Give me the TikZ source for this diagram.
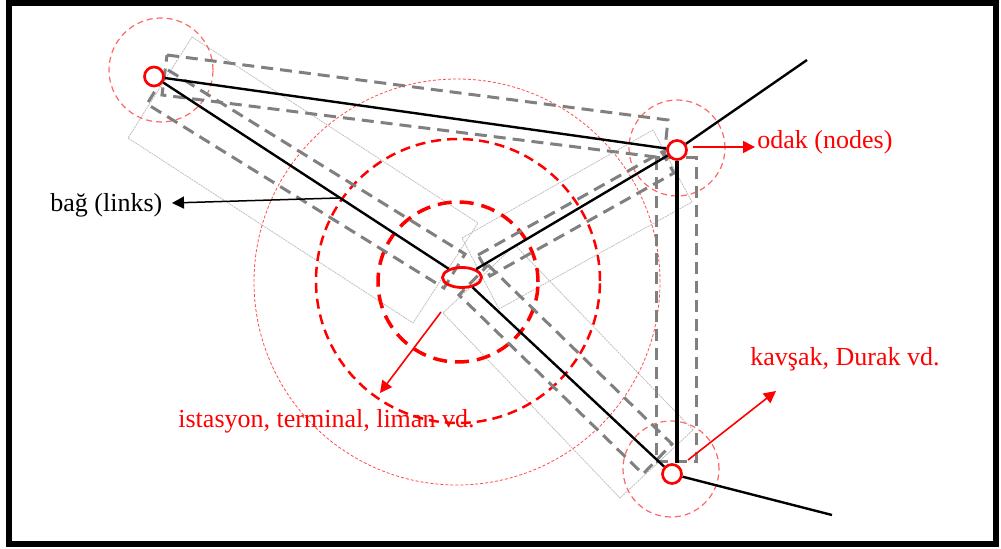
\documentclass[tikz,border=0pt]{standalone}
\usepackage{fontspec}
\setmainfont{Liberation Serif}
\usetikzlibrary{shapes.geometric,arrows.meta}
\begin{document}
\begin{tikzpicture}[x=0.5pt,y=-0.5pt,
  nodecirc/.style={circle,draw=red,line width=1.35pt,fill=white,inner sep=0pt,minimum size=9.5pt},
  link/.style={black,line width=1.2pt},
  buffer/.style={draw=gray,line width=1.5pt,dash pattern=on 6pt off 3.5pt},
  zone/.style={draw=black!25,line width=0.4pt,dash pattern=on 1pt off 0.4pt},
  reach/.style={draw=red!60,line width=0.6pt,dash pattern=on 3pt off 2pt},
  lbl/.style={font=\fontsize{13}{15}\selectfont,inner sep=0pt,anchor=base west},
  redarrow/.style={draw=red,line width=0.8pt,-{Triangle[length=6pt,width=6pt]}},
  blackarrow/.style={draw=black,line width=0.75pt,-{Triangle[length=6pt,width=6pt]}},
]
\useasboundingbox (0,0) rectangle (1001,549);
\draw[line width=3pt] (9,3) rectangle (996,544);

% thin zone rectangles
\draw[zone] (192,37) -- (478,223) -- (413,323) -- (128,138) -- cycle;
\draw[zone] (462,238) -- (653,130) -- (692,202) -- (499,309) -- cycle;
\draw[zone] (515,245) -- (693,430) -- (620,498) -- (443,313) -- cycle;

% reach circles
\draw[reach] (161,70) circle[radius=26pt];
\draw[reach] (677,148) circle[radius=24pt];
\draw[reach] (671,469) circle[radius=24pt];
\draw[draw=red!70,line width=0.4pt,dash pattern=on 1.5pt off 1pt] (457,282) circle[radius=101.5pt];
\draw[red,line width=1.25pt,dash pattern=on 5pt off 3pt] (458,281) circle[radius=71pt];
\draw[red,line width=1.75pt,dash pattern=on 7pt off 4pt] (458,282) circle[radius=40pt];

% buffers
\draw[buffer] (167,55) -- (668,120) -- (664,158) -- (162,95) -- cycle;
\draw[buffer] (168,70) -- (465,254) -- (444,288) -- (147,104) -- cycle;
\draw[buffer] (478,255) -- (662,152) -- (674,173) -- (490,276) -- cycle;
\draw[buffer] (488,265) -- (672,444) -- (643,474) -- (459,295) -- cycle;
\draw[buffer] (656,158) rectangle (696,462);

% nodes
\node[nodecirc] (A) at (154,76.5) {};
\node[nodecirc] (B) at (677,150) {};
\node[nodecirc] (C) at (672,474) {};
\node[ellipse,draw=red,line width=1.4pt,inner sep=0pt,minimum width=19.5pt,minimum height=10pt] (O) at (462,277.5) {};
\coordinate (Bout) at (807,60);
\coordinate (Cout) at (832,515);

% links
\draw[link] (A) -- (B);
\draw[link] (A) -- (O);
\draw[link] (O) -- (B);
\draw[link] (O) -- (C);
\draw[link,line width=2pt] (B.south) -- (B.south |- C.north);
\draw[link] (B) -- (Bout);
\draw[link] (C) -- (Cout);

% labels
\path (A) -- (O) coordinate[pos=0.62] (lk);
\coordinate (lktip) at (172,203);
\draw[blackarrow] (lk) -- (lktip);
\node[lbl] (lnk) at (50,212) {bağ (links)};

\coordinate (odst) at (693,147);
\coordinate (odtip) at (755,147);
\draw[redarrow] (odst) -- (odtip);
\node[lbl,text=red] (odak) at (757,149) {odak (nodes)};

\coordinate (kvst) at (688,460);
\coordinate (kvtip) at (776,391);
\draw[redarrow] (kvst) -- (kvtip);
\node[lbl,text=red] (kavsak) at (750,366) {kavşak, Durak vd.};

\coordinate (isst) at (441,312);
\coordinate (istip) at (380,393);
\draw[redarrow] (isst) -- (istip);
\node[lbl,text=red] (ist) at (178,428) {istasyon, terminal, liman vd.};
\end{tikzpicture}
\end{document}
